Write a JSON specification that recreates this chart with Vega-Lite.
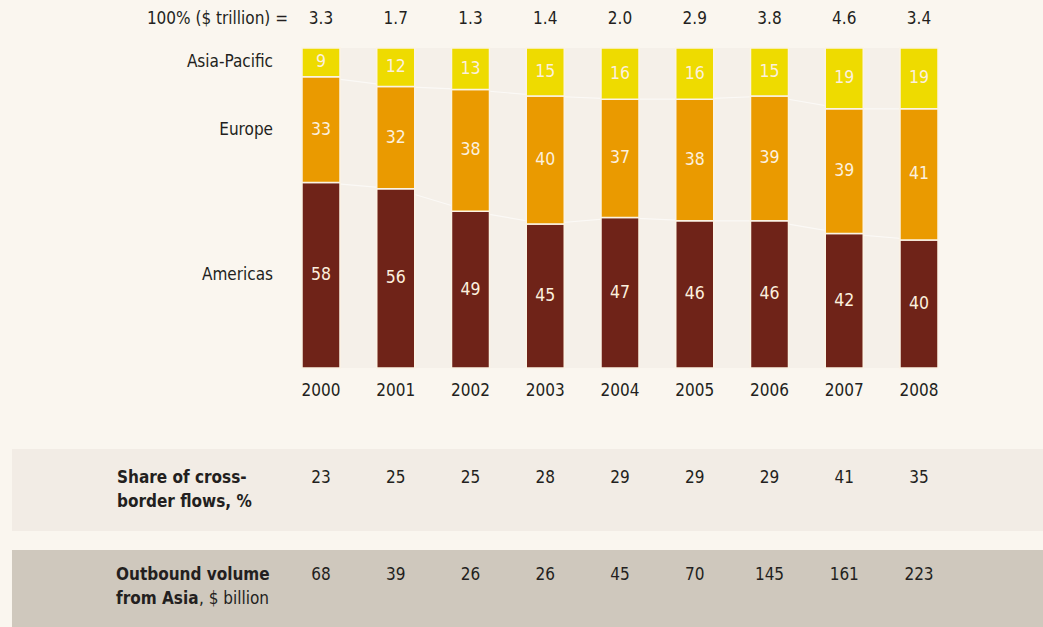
{
  "$schema": "https://vega.github.io/schema/vega-lite/v6.json",
  "autosize": {"type": "fit", "contains": "padding"},
  "width": 1043,
  "height": 627,
  "padding": 0,
  "background": "#faf6ef",
  "config": {
    "view": {"stroke": null},
    "scale": {"continuousPadding": 0},
    "text": {"font": "Liberation Sans Narrow, DejaVu Sans Condensed, sans-serif", "fontSize": 17, "color": "#231f20", "baseline": "middle"}
  },
  "datasets": {
    "shares": [
      {"year": 2000, "region": "Americas", "order": 1, "share": 58},
      {"year": 2000, "region": "Europe", "order": 2, "share": 33},
      {"year": 2000, "region": "Asia-Pacific", "order": 3, "share": 9},
      {"year": 2001, "region": "Americas", "order": 1, "share": 56},
      {"year": 2001, "region": "Europe", "order": 2, "share": 32},
      {"year": 2001, "region": "Asia-Pacific", "order": 3, "share": 12},
      {"year": 2002, "region": "Americas", "order": 1, "share": 49},
      {"year": 2002, "region": "Europe", "order": 2, "share": 38},
      {"year": 2002, "region": "Asia-Pacific", "order": 3, "share": 13},
      {"year": 2003, "region": "Americas", "order": 1, "share": 45},
      {"year": 2003, "region": "Europe", "order": 2, "share": 40},
      {"year": 2003, "region": "Asia-Pacific", "order": 3, "share": 15},
      {"year": 2004, "region": "Americas", "order": 1, "share": 47},
      {"year": 2004, "region": "Europe", "order": 2, "share": 37},
      {"year": 2004, "region": "Asia-Pacific", "order": 3, "share": 16},
      {"year": 2005, "region": "Americas", "order": 1, "share": 46},
      {"year": 2005, "region": "Europe", "order": 2, "share": 38},
      {"year": 2005, "region": "Asia-Pacific", "order": 3, "share": 16},
      {"year": 2006, "region": "Americas", "order": 1, "share": 46},
      {"year": 2006, "region": "Europe", "order": 2, "share": 39},
      {"year": 2006, "region": "Asia-Pacific", "order": 3, "share": 15},
      {"year": 2007, "region": "Americas", "order": 1, "share": 42},
      {"year": 2007, "region": "Europe", "order": 2, "share": 39},
      {"year": 2007, "region": "Asia-Pacific", "order": 3, "share": 19},
      {"year": 2008, "region": "Americas", "order": 1, "share": 40},
      {"year": 2008, "region": "Europe", "order": 2, "share": 41},
      {"year": 2008, "region": "Asia-Pacific", "order": 3, "share": 19}
    ],
    "years": [
      {"year": 2000, "total": "3.3", "cross": 23, "outbound": 68},
      {"year": 2001, "total": "1.7", "cross": 25, "outbound": 39},
      {"year": 2002, "total": "1.3", "cross": 25, "outbound": 26},
      {"year": 2003, "total": "1.4", "cross": 28, "outbound": 26},
      {"year": 2004, "total": "2.0", "cross": 29, "outbound": 45},
      {"year": 2005, "total": "2.9", "cross": 29, "outbound": 70},
      {"year": 2006, "total": "3.8", "cross": 29, "outbound": 145},
      {"year": 2007, "total": "4.6", "cross": 41, "outbound": 161},
      {"year": 2008, "total": "3.4", "cross": 35, "outbound": 223}
    ]
  },
  "layer": [
    {
      "data": {"values": [{}]},
      "mark": {"type": "rect", "color": "#f2ece5"},
      "encoding": {
        "x": {"datum": 1995.866, "type": "quantitative", "scale": {"domain": [1995.7057, 2009.6589], "nice": false, "zero": false, "padding": 0}, "axis": null},
        "x2": {"datum": 2009.6589},
        "y": {"datum": -25.31, "type": "quantitative", "scale": {"domain": [-80.9375, 115], "nice": false, "zero": false, "padding": 0}, "axis": null},
        "y2": {"datum": -50.94}
      }
    },
    {
      "data": {"values": [{}]},
      "mark": {"type": "rect", "color": "#cfc8bd"},
      "encoding": {
        "x": {"datum": 1995.866, "type": "quantitative", "scale": {"domain": [1995.7057, 2009.6589], "nice": false, "zero": false, "padding": 0}, "axis": null},
        "x2": {"datum": 2009.6589},
        "y": {"datum": -56.875, "type": "quantitative", "scale": {"domain": [-80.9375, 115], "nice": false, "zero": false, "padding": 0}, "axis": null},
        "y2": {"datum": -80.9375}
      }
    },
    {
      "data": {"values": [{}]},
      "mark": {"type": "rect", "color": "#f5f0e9"},
      "encoding": {
        "x": {"datum": 2000, "type": "quantitative", "scale": {"domain": [1995.7057, 2009.6589], "nice": false, "zero": false, "padding": 0}, "axis": null},
        "x2": {"datum": 2008},
        "y": {"datum": 0, "type": "quantitative", "scale": {"domain": [-80.9375, 115], "nice": false, "zero": false, "padding": 0}, "axis": null},
        "y2": {"datum": 100}
      }
    },
    {
      "data": {"name": "shares"},
      "transform": [
        {"stack": "share", "groupby": ["year"], "sort": [{"field": "order", "order": "ascending"}], "as": ["y0", "y1"]},
        {"filter": "datum.region != 'Asia-Pacific'"}
      ],
      "mark": {"type": "line", "color": "#ffffff", "strokeWidth": 1.2, "opacity": 0.6},
      "encoding": {
        "x": {"field": "year", "type": "quantitative", "scale": {"domain": [1995.7057, 2009.6589], "nice": false, "zero": false, "padding": 0}, "axis": null},
        "y": {"field": "y1", "type": "quantitative", "scale": {"domain": [-80.9375, 115], "nice": false, "zero": false, "padding": 0}, "axis": null},
        "detail": {"field": "region"}
      }
    },
    {
      "data": {"name": "shares"},
      "transform": [
        {"stack": "share", "groupby": ["year"], "sort": [{"field": "order", "order": "ascending"}], "as": ["y0", "y1"]}
      ],
      "mark": {"type": "bar", "size": 38, "stroke": "#fbf3e4", "strokeWidth": 1.5},
      "encoding": {
        "x": {"field": "year", "type": "quantitative", "scale": {"domain": [1995.7057, 2009.6589], "nice": false, "zero": false, "padding": 0}, "axis": null},
        "y": {"field": "y0", "type": "quantitative", "scale": {"domain": [-80.9375, 115], "nice": false, "zero": false, "padding": 0}, "axis": null},
        "y2": {"field": "y1"},
        "color": {"field": "region", "type": "nominal", "scale": {"domain": ["Americas", "Europe", "Asia-Pacific"], "range": ["#6f2318", "#ea9a00", "#eedb00"]}, "legend": null}
      }
    },
    {
      "data": {"name": "shares"},
      "transform": [
        {"stack": "share", "groupby": ["year"], "sort": [{"field": "order", "order": "ascending"}], "as": ["y0", "y1"]},
        {"calculate": "(datum.y0 + datum.y1) / 2", "as": "mid"}
      ],
      "mark": {"type": "text", "color": "#fcf0de", "fontSize": 17.5},
      "encoding": {
        "x": {"field": "year", "type": "quantitative", "scale": {"domain": [1995.7057, 2009.6589], "nice": false, "zero": false, "padding": 0}, "axis": null},
        "y": {"field": "mid", "type": "quantitative", "scale": {"domain": [-80.9375, 115], "nice": false, "zero": false, "padding": 0}, "axis": null},
        "text": {"field": "share", "type": "quantitative"}
      }
    },
    {
      "data": {"name": "shares"},
      "transform": [
        {"stack": "share", "groupby": ["year"], "sort": [{"field": "order", "order": "ascending"}], "as": ["y0", "y1"]},
        {"calculate": "(datum.y0 + datum.y1) / 2", "as": "mid"},
        {"filter": "datum.year == 2000"}
      ],
      "mark": {"type": "text", "align": "right"},
      "encoding": {
        "x": {"datum": 1999.358, "type": "quantitative", "scale": {"domain": [1995.7057, 2009.6589], "nice": false, "zero": false, "padding": 0}, "axis": null},
        "y": {"field": "mid", "type": "quantitative", "scale": {"domain": [-80.9375, 115], "nice": false, "zero": false, "padding": 0}, "axis": null},
        "text": {"field": "region", "type": "nominal"}
      }
    },
    {
      "data": {"values": [{}]},
      "mark": {"type": "text", "align": "right", "text": "100% ($ trillion) ="},
      "encoding": {
        "x": {"datum": 1999.5585, "type": "quantitative", "scale": {"domain": [1995.7057, 2009.6589], "nice": false, "zero": false, "padding": 0}, "axis": null},
        "y": {"datum": 109.06, "type": "quantitative", "scale": {"domain": [-80.9375, 115], "nice": false, "zero": false, "padding": 0}, "axis": null}
      }
    },
    {
      "data": {"name": "years"},
      "mark": {"type": "text"},
      "encoding": {
        "x": {"field": "year", "type": "quantitative", "scale": {"domain": [1995.7057, 2009.6589], "nice": false, "zero": false, "padding": 0}, "axis": null},
        "y": {"datum": 109.06, "type": "quantitative", "scale": {"domain": [-80.9375, 115], "nice": false, "zero": false, "padding": 0}, "axis": null},
        "text": {"field": "total", "type": "nominal"}
      }
    },
    {
      "data": {"name": "years"},
      "mark": {"type": "text"},
      "encoding": {
        "x": {"field": "year", "type": "quantitative", "scale": {"domain": [1995.7057, 2009.6589], "nice": false, "zero": false, "padding": 0}, "axis": null},
        "y": {"datum": -7.19, "type": "quantitative", "scale": {"domain": [-80.9375, 115], "nice": false, "zero": false, "padding": 0}, "axis": null},
        "text": {"field": "year", "type": "quantitative", "format": "d"}
      }
    },
    {
      "data": {"name": "years"},
      "mark": {"type": "text"},
      "encoding": {
        "x": {"field": "year", "type": "quantitative", "scale": {"domain": [1995.7057, 2009.6589], "nice": false, "zero": false, "padding": 0}, "axis": null},
        "y": {"datum": -34.22, "type": "quantitative", "scale": {"domain": [-80.9375, 115], "nice": false, "zero": false, "padding": 0}, "axis": null},
        "text": {"field": "cross", "type": "quantitative"}
      }
    },
    {
      "data": {"name": "years"},
      "mark": {"type": "text"},
      "encoding": {
        "x": {"field": "year", "type": "quantitative", "scale": {"domain": [1995.7057, 2009.6589], "nice": false, "zero": false, "padding": 0}, "axis": null},
        "y": {"datum": -64.69, "type": "quantitative", "scale": {"domain": [-80.9375, 115], "nice": false, "zero": false, "padding": 0}, "axis": null},
        "text": {"field": "outbound", "type": "quantitative"}
      }
    },
    {
      "data": {"values": [{}]},
      "mark": {"type": "text", "align": "left", "fontWeight": "bold", "text": "Share of cross-"},
      "encoding": {
        "x": {"datum": 1997.271, "type": "quantitative", "scale": {"domain": [1995.7057, 2009.6589], "nice": false, "zero": false, "padding": 0}, "axis": null},
        "y": {"datum": -34.22, "type": "quantitative", "scale": {"domain": [-80.9375, 115], "nice": false, "zero": false, "padding": 0}, "axis": null}
      }
    },
    {
      "data": {"values": [{}]},
      "mark": {"type": "text", "align": "left", "fontWeight": "bold", "text": "border flows, %"},
      "encoding": {
        "x": {"datum": 1997.271, "type": "quantitative", "scale": {"domain": [1995.7057, 2009.6589], "nice": false, "zero": false, "padding": 0}, "axis": null},
        "y": {"datum": -41.875, "type": "quantitative", "scale": {"domain": [-80.9375, 115], "nice": false, "zero": false, "padding": 0}, "axis": null}
      }
    },
    {
      "data": {"values": [{}]},
      "mark": {"type": "text", "align": "left", "fontWeight": "bold", "text": "Outbound volume"},
      "encoding": {
        "x": {"datum": 1997.258, "type": "quantitative", "scale": {"domain": [1995.7057, 2009.6589], "nice": false, "zero": false, "padding": 0}, "axis": null},
        "y": {"datum": -64.69, "type": "quantitative", "scale": {"domain": [-80.9375, 115], "nice": false, "zero": false, "padding": 0}, "axis": null}
      }
    },
    {
      "data": {"values": [{}]},
      "mark": {"type": "text", "align": "left", "fontWeight": "bold", "text": "from Asia"},
      "encoding": {
        "x": {"datum": 1997.258, "type": "quantitative", "scale": {"domain": [1995.7057, 2009.6589], "nice": false, "zero": false, "padding": 0}, "axis": null},
        "y": {"datum": -72.19, "type": "quantitative", "scale": {"domain": [-80.9375, 115], "nice": false, "zero": false, "padding": 0}, "axis": null}
      }
    },
    {
      "data": {"values": [{}]},
      "mark": {"type": "text", "align": "left", "text": ", $ billion"},
      "encoding": {
        "x": {"datum": 1998.368, "type": "quantitative", "scale": {"domain": [1995.7057, 2009.6589], "nice": false, "zero": false, "padding": 0}, "axis": null},
        "y": {"datum": -72.19, "type": "quantitative", "scale": {"domain": [-80.9375, 115], "nice": false, "zero": false, "padding": 0}, "axis": null}
      }
    }
  ]
}
